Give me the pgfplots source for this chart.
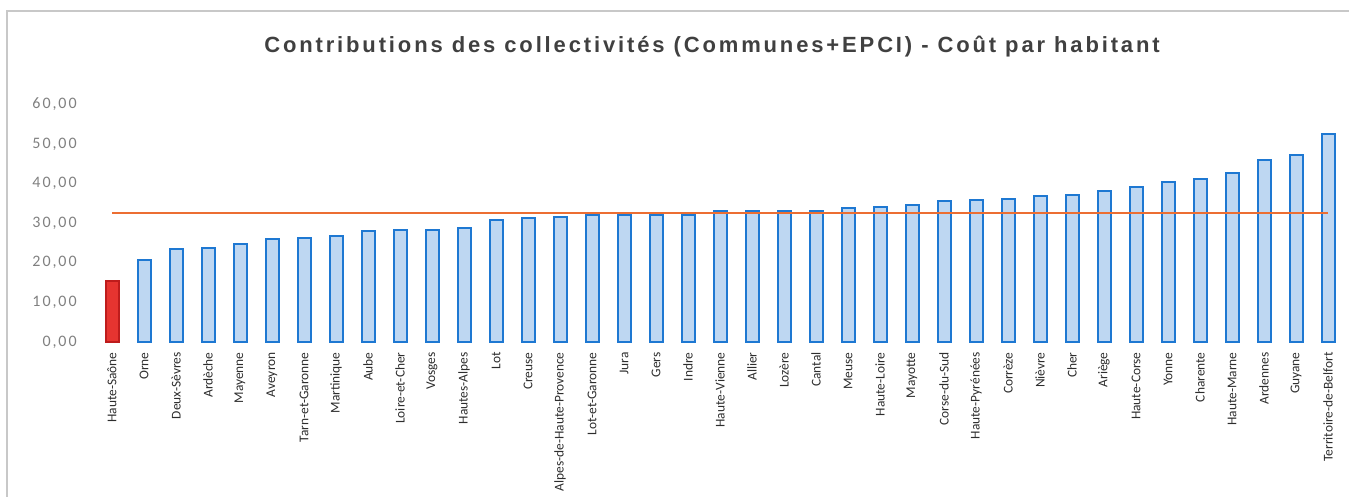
\documentclass[border=0pt]{standalone}
\usepackage{pgfplots}
\pgfplotsset{compat=1.18}
\usepackage{pgfplotstable}
\usepackage{fontspec}
\setmainfont{Carlito}
\newfontfamily\titlefont{Liberation Sans}[LetterSpace=13]
\newfontfamily\yfont{Carlito}[LetterSpace=12]
\definecolor{barfill}{RGB}{190,215,242}
\definecolor{barline}{RGB}{30,120,210}
\definecolor{redfill}{RGB}{230,52,48}
\definecolor{redline}{RGB}{190,28,28}
\definecolor{avgline}{RGB}{236,110,50}
\definecolor{titlegray}{RGB}{64,64,64}
\definecolor{ticklabgray}{RGB}{128,128,128}
\definecolor{framegray}{RGB}{200,200,200}

\pgfplotstableread{
idx val
0 15.4
}\redtable

\pgfplotstableread{
idx val
1 20.7
2 23.5
3 23.7
4 24.8
5 25.9
6 26.3
7 26.8
8 28.0
9 28.2
10 28.3
11 28.9
12 30.7
13 31.3
14 31.6
15 32.1
16 32.1
17 32.2
18 32.2
19 33.0
20 33.0
21 33.0
22 33.2
23 33.9
24 34.1
25 34.7
26 35.7
27 35.9
28 36.2
29 37.0
30 37.1
31 38.1
32 39.2
33 40.5
34 41.1
35 42.8
36 45.9
37 47.2
38 52.5
}\bluetable

\begin{document}
\begin{tikzpicture}
\path[use as bounding box] (0,0) rectangle (674.5pt,248.5pt);
\draw[framegray, line width=0.7pt] (3.5pt,0) -- (3.5pt,243pt) -- (674.5pt,243pt);
\node[font=\titlefont\bfseries\fontsize{11}{13}\selectfont, text=titlegray] at (356pt,225pt) {Contributions des collectivités (Communes+EPCI) - Coût par habitant};
\begin{axis}[
  at={(48pt,77.5pt)}, anchor=south west,
  scale only axis, width=624pt, height=118.75pt,
  xmin=-0.5, xmax=38.5, ymin=0, ymax=60,
  clip=false,
  axis line style={draw=none},
  major tick length=0pt,
  xtick={0,...,38},
  xticklabels={Haute-Saône,Orne,Deux-Sèvres,Ardèche,Mayenne,Aveyron,Tarn-et-Garonne,Martinique,Aube,Loire-et-Cher,Vosges,Hautes-Alpes,Lot,Creuse,Alpes-de-Haute-Provence,Lot-et-Garonne,Jura,Gers,Indre,Haute-Vienne,Allier,Lozère,Cantal,Meuse,Haute-Loire,Mayotte,Corse-du-Sud,Haute-Pyrénées,Corrèze,Nièvre,Cher,Ariège,Haute-Corse,Yonne,Charente,Haute-Marne,Ardennes,Guyane,Territoire-de-Belfort},
  xticklabel style={rotate=90, anchor=east, inner sep=0pt, font=\fontsize{6.7}{8}\selectfont, text={rgb,255:red,45;green,45;blue,45}},
  xticklabel shift=5pt,
  ytick={0,10,20,30,40,50,60},
  yticklabels={{0,00},{10,00},{20,00},{30,00},{40,00},{50,00},{60,00}},
  yticklabel style={anchor=east, inner sep=0pt, font=\yfont\fontsize{8}{9}\selectfont, text=ticklabgray},
  yticklabel shift=9.5pt,
]
\addplot[ybar, bar width=6.5pt, bar shift=0pt, fill=barfill, draw=barline, line width=1pt] table[x=idx, y=val] {\bluetable};
\addplot[ybar, bar width=6.5pt, bar shift=0pt, fill=redfill, draw=redline, line width=1pt] table[x=idx, y=val] {\redtable};
\addplot[draw=avgline, color=avgline, line width=1pt, mark=none, sharp plot] coordinates {(0,32.5) (38,32.5)};
\end{axis}
\end{tikzpicture}
\end{document}
